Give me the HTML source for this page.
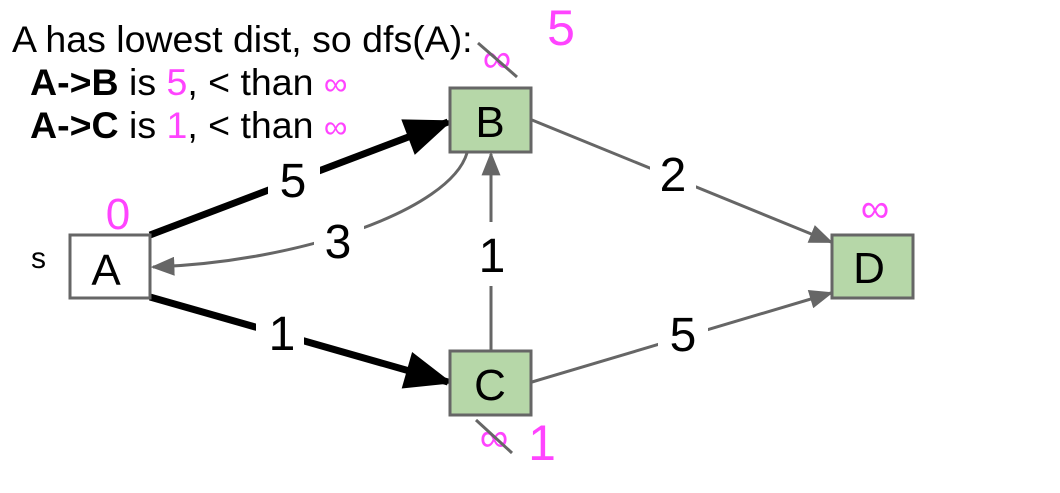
<!DOCTYPE html>
<html><head><style>body{margin:0;background:#fff}svg{display:block}text{font-family:"Liberation Sans",sans-serif}</style></head><body>
<svg width="1060" height="493" viewBox="0 0 1060 493" xmlns="http://www.w3.org/2000/svg">
<defs>
<marker id="g" viewBox="0 0 10 8" refX="9" refY="4" markerWidth="24" markerHeight="19" orient="auto" markerUnits="userSpaceOnUse"><path d="M0,0 L10,4 L0,8z" fill="#666"/></marker>
<marker id="b" viewBox="0 0 10 8" refX="9" refY="4" markerWidth="48" markerHeight="38" orient="auto" markerUnits="userSpaceOnUse"><path d="M0,0 L10,4 L0,8z" fill="#000"/></marker>
</defs>
<text x="12" y="52" style="font-size:37.5px">A has lowest dist, so dfs(A):</text>
<text x="30" y="95" style="font-size:37.5px"><tspan font-weight="bold">A-&gt;B</tspan> is <tspan fill="#ff44ff">5</tspan>, &lt; than <tspan fill="#ff44ff" style="font-size:33px">∞</tspan></text>
<text x="30" y="138" style="font-size:37.5px"><tspan font-weight="bold">A-&gt;C</tspan> is <tspan fill="#ff44ff">1</tspan>, &lt; than <tspan fill="#ff44ff" style="font-size:33px">∞</tspan></text>
<!-- edges -->
<line x1="150" y1="235" x2="448" y2="122" stroke="#000" stroke-width="7" marker-end="url(#b)"/>
<line x1="150" y1="297" x2="448" y2="382" stroke="#000" stroke-width="7" marker-end="url(#b)"/>
<path d="M467,153 C450,210 300,262 153,267" fill="none" stroke="#666" stroke-width="3" marker-end="url(#g)"/>
<line x1="491" y1="350" x2="491" y2="154" stroke="#666" stroke-width="3" marker-end="url(#g)"/>
<line x1="532" y1="120" x2="831" y2="242" stroke="#666" stroke-width="3" marker-end="url(#g)"/>
<line x1="532" y1="382" x2="831" y2="293" stroke="#666" stroke-width="3" marker-end="url(#g)"/>
<!-- label backgrounds -->
<rect x="268" y="152" width="52" height="54" fill="#fff"/>
<rect x="256" y="306" width="48" height="54" fill="#fff"/>
<rect x="314" y="212" width="50" height="54" fill="#fff"/>
<rect x="472" y="222" width="38" height="64" fill="#fff"/>
<rect x="650" y="146" width="46" height="54" fill="#fff"/>
<rect x="658" y="306" width="50" height="54" fill="#fff"/>
<g style="font-size:48px" text-anchor="middle">
<text x="293" y="197">5</text>
<text x="282" y="350">1</text>
<text x="338" y="258">3</text>
<text x="492" y="272">1</text>
<text x="673" y="191">2</text>
<text x="683" y="351">5</text>
</g>
<!-- nodes -->
<rect x="70" y="235" width="80" height="63" fill="#fff" stroke="#666" stroke-width="3"/>
<rect x="450" y="88" width="81" height="64" fill="#b6d7a8" stroke="#666" stroke-width="3"/>
<rect x="450" y="351" width="81" height="64" fill="#b6d7a8" stroke="#666" stroke-width="3"/>
<rect x="832" y="235" width="81" height="63" fill="#b6d7a8" stroke="#666" stroke-width="3"/>
<g style="font-size:44px" text-anchor="middle">
<text x="106" y="285">A</text>
<text x="490" y="137">B</text>
<text x="490" y="400">C</text>
<text x="869" y="283">D</text>
</g>
<text x="31" y="268" style="font-size:30px">s</text>
<!-- dist labels -->
<text x="118" y="229" style="font-size:44px" fill="#ff44ff" text-anchor="middle">0</text>
<text x="561" y="45" style="font-size:50px" fill="#ff44ff" text-anchor="middle">5</text>
<text x="497" y="72" style="font-size:40px" fill="#ff44ff" text-anchor="middle">∞</text>
<line x1="478" y1="43" x2="517" y2="77" stroke="#666" stroke-width="3"/>
<text x="875" y="222" style="font-size:40px" fill="#ff44ff" text-anchor="middle">∞</text>
<text x="494" y="451" style="font-size:40px" fill="#ff44ff" text-anchor="middle">∞</text>
<line x1="476" y1="420" x2="512" y2="453" stroke="#666" stroke-width="3"/>
<text x="542" y="460" style="font-size:50px" fill="#ff44ff" text-anchor="middle">1</text>
</svg>
</body></html>
